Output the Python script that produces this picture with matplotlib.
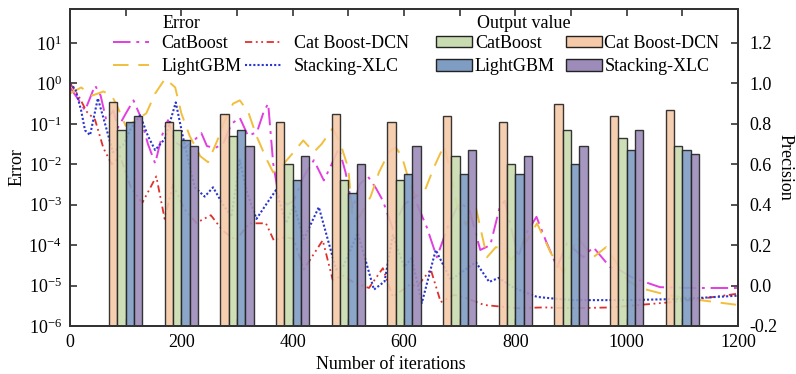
import numpy as np
import matplotlib
matplotlib.use("Agg")
import matplotlib.pyplot as plt
from matplotlib.lines import Line2D
from matplotlib.patches import Patch
from matplotlib.ticker import MultipleLocator, LogLocator, NullLocator, FormatStrFormatter

plt.rcParams["font.family"] = ["Liberation Serif", "DejaVu Serif"]
plt.rcParams["mathtext.fontset"] = "custom"
plt.rcParams["mathtext.rm"] = "Liberation Serif"
plt.rcParams["font.size"] = 13

# --- data ---------------------------------------------------------------
# error curves: iteration and log10(error)
catboost_x = [0, 15, 27, 45, 55, 65, 78, 86, 100, 114, 126, 140, 153, 165, 176, 189, 205, 220, 236, 246,
              260, 275, 290, 305, 320, 336, 348, 356, 365, 375, 390, 402, 420, 438, 456, 470, 483, 495, 508, 520,
              535, 550, 562, 580, 600, 618, 641, 659, 680, 699, 717, 737, 755, 772, 781, 805, 820, 838, 855, 875,
              893, 922, 940, 970, 988, 1011, 1060, 1119, 1200]
catboost_log = [-0.1, -0.4, -0.67, -0.05, -0.3, -0.9, -0.67, -1.1, -0.75, -0.42, -0.8, -1.5, -1.98, -1.3, -0.91,
                -1.45, -1.6, -1.45, -1.23, -1.55, -1.6, -1.5, -1.0, -0.85, -1.3, -1.2, -0.7, -0.5, -1.98, -2.8,
                -3.0, -2.9, -2.3, -1.9, -2.4, -2.0, -1.6, -2.2, -3.1, -2.5, -2.3, -2.6, -2.9, -3.6, -3.0, -2.81,
                -3.56, -4.3, -3.5, -2.96, -3.1, -4.12, -4.0, -3.06, -2.9, -4.3, -3.7, -3.3, -3.9, -4.54, -3.95,
                -4.3, -4.05, -4.54, -4.62, -4.81, -5.04, -5.06, -5.06]

dcn_x = [0, 15, 30, 45, 60, 75, 90, 110, 130, 155, 170, 185, 205, 227, 253, 275, 298, 322, 352, 366,
         388, 402, 420, 454, 472, 490, 508, 537, 562, 580, 609, 625, 648, 666, 690, 710, 744, 803, 851, 905,
         974, 1022, 1081, 1141, 1200]
dcn_log = [0.0, -0.3, -0.7, -0.9, -1.6, -2.0, -1.8, -2.6, -2.95, -2.3, -3.35, -2.5, -3.1, -3.45, -3.26, -3.65,
           -3.88, -3.46, -3.46, -3.88, -3.8, -3.85, -4.6, -3.88, -4.86, -4.75, -4.91, -5.06, -4.57, -5.28,
           -4.99, -5.0, -4.6, -5.41, -5.23, -5.3, -5.48, -5.56, -5.54, -5.56, -5.54, -5.48, -5.41, -5.31, -5.2]

lgbm_x = [0, 20, 40, 60, 75, 86, 100, 115, 137, 153, 171, 189, 200, 215, 234, 248, 265, 278, 293, 305,
          320, 335, 354, 365, 383, 400, 419, 438, 452, 472, 486, 500, 508, 520, 540, 555, 573, 585, 596, 605,
          620, 636, 654, 672, 684, 695, 711, 729, 749, 765, 780, 792, 821, 839, 864, 887, 911, 940, 963, 982,
          1000, 1024, 1072, 1132, 1200]
lgbm_log = [-0.25, -0.1, -0.3, -0.2, -0.3, -0.6, -1.05, -0.95, -0.74, -0.25, 0.12, -0.1, -0.74, -1.3, -1.8,
            -1.95, -1.4, -0.91, -0.5, -0.42, -0.7, -1.3, -1.9, -2.2, -2.0, -1.73, -1.41, -1.7, -1.5, -1.11,
            -1.5, -2.1, -3.4, -3.3, -2.8, -2.2, -1.7, -1.58, -1.8, -2.22, -2.8, -2.7, -2.07, -1.53, -2.22,
            -3.0, -3.5, -3.06, -4.3, -4.05, -4.1, -4.37, -3.88, -3.46, -4.2, -4.69, -3.8, -4.3, -4.05, -4.44,
            -4.86, -5.06, -5.23, -5.36, -5.48]

xlc_x = [0, 10, 20, 27, 36, 50, 63, 77, 95, 110, 126, 140, 153, 171, 190, 203, 224, 242, 257, 275,
         290, 305, 318, 335, 352, 370, 388, 402, 420, 447, 478, 490, 517, 546, 565, 580, 600, 614, 632, 657,
         684, 729, 753, 770, 798, 839, 875, 905, 1000, 1100, 1200]
xlc_log = [0.0, -0.15, -0.67, -1.16, -1.28, -0.37, -1.0, -1.7, -1.53, -1.1, -0.79, -1.3, -1.65, -1.36, -0.47,
           -1.33, -2.57, -2.8, -2.57, -3.0, -3.3, -1.9, -2.7, -3.35, -3.0, -2.64, -3.46, -3.0, -3.85, -3.06,
           -4.6, -4.55, -3.7, -5.1, -4.9, -3.75, -4.54, -4.32, -5.43, -4.12, -4.86, -4.42, -4.91, -4.81,
           -5.06, -5.28, -5.33, -5.36, -5.36, -5.33, -5.25]

# precision bars (right axis)
groups = [100, 200, 300, 400, 500, 600, 700, 800, 900, 1000, 1100]
prec_dcn = [0.91, 0.81, 0.85, 0.81, 0.85, 0.81, 0.84, 0.81, 0.90, 0.84, 0.87]
prec_catboost = [0.77, 0.77, 0.74, 0.60, 0.52, 0.52, 0.64, 0.60, 0.77, 0.73, 0.69]
prec_lgbm = [0.81, 0.72, 0.77, 0.52, 0.46, 0.55, 0.55, 0.55, 0.60, 0.67, 0.67]
prec_xlc = [0.84, 0.69, 0.69, 0.64, 0.60, 0.69, 0.67, 0.64, 0.69, 0.77, 0.65]

# --- figure ----------------------------------------------------------------
fig = plt.figure(figsize=(7.96, 3.74), dpi=100)
ax = fig.add_axes([70 / 796, 1 - 326 / 374, 668 / 796, 317 / 374])
ax2 = ax.twinx()

c_mag, c_red, c_gold, c_blue = "#e23ee0", "#e0302c", "#f2bf3c", "#2a36d0"
ls_mag = (0, (9, 3, 1.5, 3))
ls_red = (0, (4, 2, 1, 2, 1, 2))
ls_gold = (0, (8, 5))
ls_blue = (0, (1, 1))

ax.plot(catboost_x, 10.0 ** np.array(catboost_log), color=c_mag, ls=ls_mag, lw=1.4)
ax.plot(dcn_x, 10.0 ** np.array(dcn_log), color=c_red, ls=ls_red, lw=1.3)
ax.plot(lgbm_x, 10.0 ** np.array(lgbm_log), color=c_gold, ls=ls_gold, lw=1.4)
ax.plot(xlc_x, 10.0 ** np.array(xlc_log), color=c_blue, ls=ls_blue, lw=1.5)

ax.set_yscale("log")
ax.set_ylim(1e-6, 10 ** 1.84)
ax.set_xlim(0, 1200)
ax.yaxis.set_major_locator(LogLocator(base=10, numticks=10))
ax.yaxis.set_minor_locator(NullLocator())
ax.xaxis.set_major_locator(MultipleLocator(200))
ax.xaxis.set_minor_locator(MultipleLocator(100))

# bars rise from the bottom of the right axis
base = -0.2
b_orange, b_green, b_blue, b_purple = "#f6c9a8", "#c9dcb1", "#7f9cc2", "#9d8cba"
w = 15
g = np.array(groups)
kw = dict(width=w, bottom=base, edgecolor="#222222", linewidth=1.0, alpha=0.9)
ax2.bar(g - 1.5 * w, np.array(prec_dcn) - base, color=b_orange, **kw)
ax2.bar(g - 0.5 * w, np.array(prec_catboost) - base, color=b_green, **kw)
ax2.bar(g + 0.5 * w, np.array(prec_lgbm) - base, color=b_blue, **kw)
ax2.bar(g + 1.5 * w, np.array(prec_xlc) - base, color=b_purple, **kw)
ax2.set_ylim(-0.2, 1.368)
ax2.yaxis.set_major_locator(MultipleLocator(0.2))
ax2.yaxis.set_major_formatter(FormatStrFormatter("%.1f"))

for a in (ax, ax2):
    for s in a.spines.values():
        s.set_color("#333333")
        s.set_linewidth(1.4)
ax.tick_params(axis="both", which="both", direction="in", top=True, length=5, width=1.2,
               labelsize=13, color="#333333")
ax.tick_params(axis="x", pad=6)
ax.tick_params(axis="y", pad=6)
ax2.tick_params(axis="y", direction="in", length=5, width=1.2, labelsize=13, color="#333333", pad=8)

ax.set_xlabel("Number of iterations", fontsize=13)
ax.xaxis.set_label_coords((391 - 70) / 668, -0.095)
ax.set_ylabel("Error", fontsize=13, labelpad=2)
ax2.set_ylabel("Precision", fontsize=13, rotation=270, labelpad=12)

# legends (column-major fill, so order gives row 1: CatBoost / Cat Boost-DCN)
err_handles = [
    Line2D([], [], color=c_mag, ls=ls_mag, lw=1.4),
    Line2D([], [], color=c_gold, ls=ls_gold, lw=1.4),
    Line2D([], [], color=c_red, ls=ls_red, lw=1.3),
    Line2D([], [], color=c_blue, ls=ls_blue, lw=1.5),
]
leg_labels = ["CatBoost", "LightGBM", "Cat Boost-DCN", "Stacking-XLC"]
fig.legend(err_handles, leg_labels, ncol=2, frameon=False, loc="upper left",
           bbox_to_anchor=(113 / 796, 1 - 35 / 374), borderpad=0, borderaxespad=0,
           handlelength=2.0, handletextpad=0.7, columnspacing=0.2, labelspacing=0.35,
           fontsize=13)
fig.text(163 / 796, 1 - 23 / 374, "Error", fontsize=13, va="center", ha="left")

bar_handles = [
    Patch(facecolor=b_green, edgecolor="#222222"),
    Patch(facecolor=b_blue, edgecolor="#222222"),
    Patch(facecolor=b_orange, edgecolor="#222222"),
    Patch(facecolor=b_purple, edgecolor="#222222"),
]
fig.legend(bar_handles, leg_labels, ncol=2, frameon=False, loc="upper left",
           bbox_to_anchor=(436 / 796, 1 - 35 / 374), borderpad=0, borderaxespad=0,
           handlelength=2.0, handleheight=0.6, handletextpad=0.15, columnspacing=0.6,
           labelspacing=0.35, fontsize=13)
fig.text(477 / 796, 1 - 23 / 374, "Output value", fontsize=13, va="center", ha="left")

fig.savefig("out.png", dpi=100)
